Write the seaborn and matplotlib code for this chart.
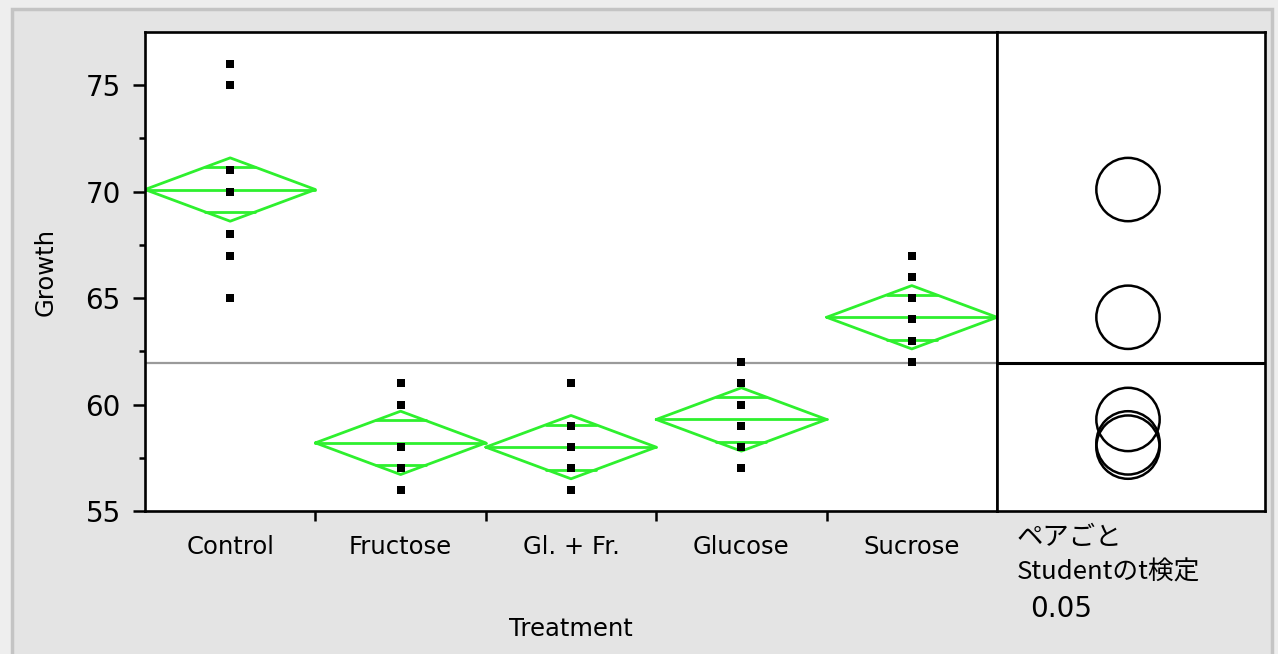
import numpy as np
import pandas as pd
import matplotlib
matplotlib.use("Agg")
import matplotlib.pyplot as plt
from matplotlib.patches import Circle, Rectangle
import seaborn as sns

# Pea section growth by sugar treatment (10 replicates per group)
categories = ["Control", "Fructose", "Gl. + Fr.", "Glucose", "Sucrose"]
growth_control = [75, 67, 70, 75, 65, 71, 67, 67, 76, 68]
growth_fructose = [58, 61, 56, 58, 57, 56, 61, 60, 57, 58]
growth_glfr = [58, 59, 58, 61, 57, 56, 58, 57, 57, 59]
growth_glucose = [57, 58, 60, 59, 62, 60, 60, 57, 59, 61]
growth_sucrose = [62, 66, 65, 63, 64, 62, 65, 65, 62, 67]
y_ticks = [55, 60, 65, 70, 75]
alpha_label = "0.05"
t_crit = 2.0141  # Student t, 0.975 quantile, 45 df

groups = [growth_control, growth_fructose, growth_glfr, growth_glucose, growth_sucrose]
df = pd.DataFrame({
    "Treatment": np.repeat(categories, [len(g) for g in groups]),
    "Growth": np.concatenate(groups),
})

means = df.groupby("Treatment", sort=False)["Growth"].mean().reindex(categories).values
counts = df.groupby("Treatment", sort=False)["Growth"].size().reindex(categories).values
resid = df["Growth"] - df["Treatment"].map(dict(zip(categories, means)))
dfe = len(df) - len(categories)
mse = float((resid ** 2).sum()) / dfe
se = np.sqrt(mse / counts)
ci = t_crit * se
grand_mean = df["Growth"].mean()

sns.set_style("white")
plt.rcParams["font.family"] = ["DejaVu Sans", "Noto Sans CJK JP"]
plt.rcParams["text.color"] = "black"
plt.rcParams["axes.labelcolor"] = "black"
plt.rcParams["xtick.color"] = "black"
plt.rcParams["ytick.color"] = "black"

W, H = 1278, 654
fig = plt.figure(figsize=(W / 100, H / 100), dpi=100)
fig.patch.set_facecolor("#eeeeee")
fig.patches.append(Rectangle((12 / W, -0.05), 1260 / W, (H - 9) / H + 0.05,
                             transform=fig.transFigure, facecolor="#e4e4e4",
                             edgecolor="#c4c4c4", linewidth=2.5, zorder=-10))

left, right, top, bottom = 145, 997, 32, 511
ax = fig.add_axes([left / W, (H - bottom) / H, (right - left) / W, (bottom - top) / H])
ax2 = fig.add_axes([right / W, (H - bottom) / H, (1265 - right) / W, (bottom - top) / H])

ylo, yhi = 55, 77.5
green = "#2ef02e"

sns.stripplot(data=df, x="Treatment", y="Growth", order=categories, jitter=False,
              color="black", marker="s", size=6, linewidth=0, ax=ax, zorder=3)

ax.axhline(grand_mean, color="#9a9a9a", lw=1.6, zorder=1)

# means diamonds with overlap marks
for i, (m, c, n) in enumerate(zip(means, ci, counts)):
    hw = 0.5 * n / counts.max()
    ax.plot([i - hw, i, i + hw, i, i - hw], [m, m + c, m, m - c, m],
            color=green, lw=2, zorder=2)
    ax.plot([i - hw, i + hw], [m, m], color=green, lw=2, zorder=2)
    ov = c / np.sqrt(2)
    ow = hw * (1 - ov / c)
    for s in (1, -1):
        ax.plot([i - ow, i + ow], [m + s * ov, m + s * ov], color=green, lw=2, zorder=2)

ax.set_xlim(-0.5, len(categories) - 0.5)
ax.set_ylim(ylo, yhi)
ax.set_facecolor("white")
ax.set_yticks(y_ticks)
ax.set_yticks(np.arange(57.5, 77.5, 5), minor=True)
ax.set_xticks(range(len(categories)))
ax.set_xticklabels(categories)
ax.set_xticks(np.arange(0.5, len(categories) - 0.5, 1), minor=True)
ax.tick_params(axis="y", which="major", direction="out", length=8.5, width=1.8,
               labelsize=20, pad=9, left=True)
ax.tick_params(axis="y", which="minor", direction="out", length=4, width=1.8, left=True)
ax.tick_params(axis="x", which="major", length=0, labelsize=17.5, pad=17)
ax.tick_params(axis="x", which="minor", direction="out", length=7, width=1.8, bottom=True)
for sp in ax.spines.values():
    sp.set_color("black")
    sp.set_linewidth(1.9)
ax.set_xlabel("Treatment", fontsize=17.5, labelpad=42)
ax.set_ylabel("Growth", fontsize=17.5, labelpad=20)

# comparison circles panel
ph = bottom - top
pw = 1265 - right
xr = pw * (yhi - ylo) / ph
ax2.set_xlim(0, xr)
ax2.set_ylim(ylo, yhi)
ax2.set_facecolor("white")
ax2.set_xticks([])
ax2.set_yticks([])
for sp in ax2.spines.values():
    sp.set_color("black")
    sp.set_linewidth(1.9)
ax2.axhline(grand_mean, color="black", lw=2.2)
cx = xr * (1128 - right) / pw
for m, c in zip(means, ci):
    ax2.add_patch(Circle((cx, m), c, fill=False, edgecolor="black", lw=1.8))

fig.text(1017 / W, 1 - 537 / H, "ペアごと", fontsize=19, va="center", ha="left",
         family=["Noto Sans CJK JP", "DejaVu Sans"])
fig.text(1017 / W, 1 - 573 / H, "Studentのt検定", fontsize=18.5, va="center", ha="left",
         family=["Noto Sans CJK JP", "DejaVu Sans"])
fig.text(1030 / W, 1 - 609 / H, alpha_label, fontsize=20, va="center", ha="left")

fig.savefig("out.png", dpi=100)
